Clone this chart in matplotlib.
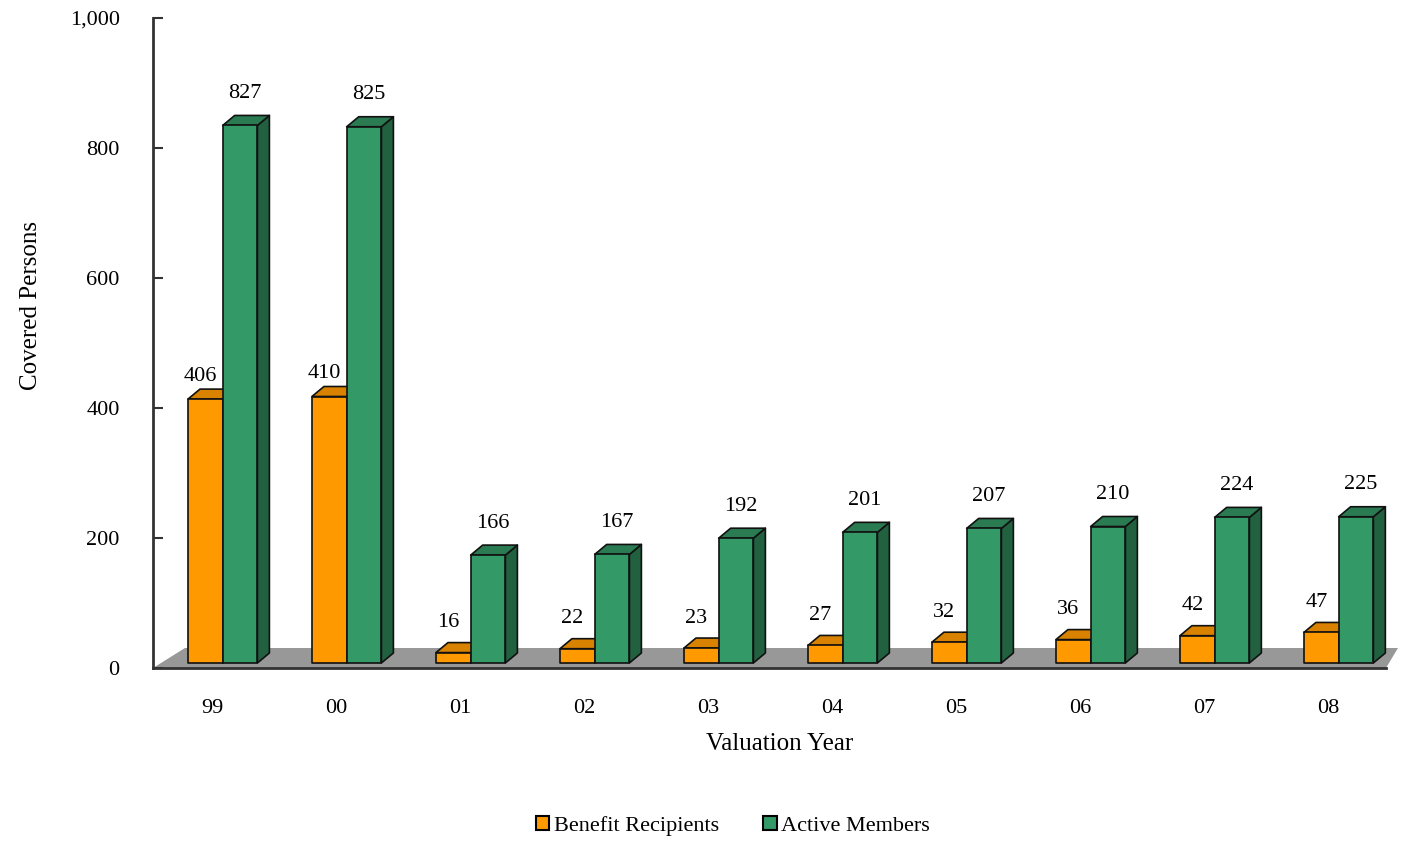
import matplotlib.pyplot as plt
from matplotlib.patches import Polygon, Patch
from matplotlib.ticker import FuncFormatter

years = ['99', '00', '01', '02', '03', '04', '05', '06', '07', '08']
recipients = [406, 410, 16, 22, 23, 27, 32, 36, 42, 47]
actives = [827, 825, 166, 167, 192, 201, 207, 210, 224, 225]

plt.rcParams['font.family'] = ['Liberation Serif', 'DejaVu Serif']
fs = 16

fig = plt.figure(figsize=(14.02, 8.42), dpi=100)
ax = fig.add_axes([153/1402, 174/842, 1233/1402, 650/842])
ax.set_xlim(-0.476, 9.468)
ax.set_ylim(0, 1000)

# one pixel in data units
px = 1/124
py = 1000/650
dx, dy = 12*px, 10*py       # depth of the 3d boxes
base = 5*py                 # front faces stand a little back on the floor
w = 0.28

# grey floor
floor = Polygon([(-0.476, 0), (-0.476 + 32*px, 20*py), (9.468 + 12*px, 20*py), (9.468, 0)],
                closed=True, facecolor='#989898', edgecolor='none', zorder=1, clip_on=False)
ax.add_patch(floor)


def box(x0, h, front, top, side):
    y1 = base + h
    pts_front = [(x0, base), (x0 + w, base), (x0 + w, y1), (x0, y1)]
    pts_top = [(x0, y1), (x0 + w, y1), (x0 + w + dx, y1 + dy), (x0 + dx, y1 + dy)]
    pts_side = [(x0 + w, base), (x0 + w + dx, base + dy), (x0 + w + dx, y1 + dy), (x0 + w, y1)]
    for pts, c in [(pts_side, side), (pts_top, top), (pts_front, front)]:
        ax.add_patch(Polygon(pts, closed=True, facecolor=c, edgecolor='#111111',
                             lw=1.2, joinstyle='round', zorder=3, clip_on=False))


for i in range(len(years)):
    xo = i - 0.194
    xg = xo + w
    box(xo, recipients[i], '#ff9900', '#d98200', '#b36b00')
    box(xg, actives[i], '#339966', '#2a7a52', '#216140')
    off = 23 if recipients[i] > 300 else 30
    ax.text(xo + w/2 - 5*px, base + recipients[i] + off*py, str(recipients[i]),
            ha='center', va='center', fontsize=fs, zorder=5)
    ax.text(xg + w/2 + 5*px, base + actives[i] + 32*py, str(actives[i]),
            ha='center', va='center', fontsize=fs, zorder=5)

ax.set_xticks(range(len(years)))
ax.set_xticklabels(years, fontsize=fs)
ax.tick_params(axis='x', length=0, pad=22)
ax.set_yticks([0, 200, 400, 600, 800, 1000])
ax.yaxis.set_major_formatter(FuncFormatter(lambda v, p: f'{int(v):,}'))
ax.tick_params(axis='y', direction='in', length=7, width=1.5, color='#333333', pad=24, labelsize=fs)

ax.spines['top'].set_visible(False)
ax.spines['right'].set_visible(False)
for s in ['left', 'bottom']:
    ax.spines[s].set_color('#333333')
    ax.spines[s].set_linewidth(2)
    ax.spines[s].set_zorder(4)

ax.set_xlabel('Valuation Year', fontsize=18)
ax.xaxis.set_label_coords(0.508, -0.1)
ax.set_ylabel('Covered Persons', fontsize=18)
ax.yaxis.set_label_coords(-0.09, 0.558)

handles = [Patch(facecolor='#ff9900', edgecolor='black', lw=1.5, label='Benefit Recipients'),
           Patch(facecolor='#339966', edgecolor='black', lw=1.5, label='Active Members')]
fig.legend(handles=handles, loc='center', bbox_to_anchor=(733/1402, 1 - 826/842), ncol=2,
           frameon=False, fontsize=fs, handlelength=0.6, handleheight=0.6,
           handletextpad=0.2, columnspacing=2.0)

fig.savefig('out.png', dpi=100)
